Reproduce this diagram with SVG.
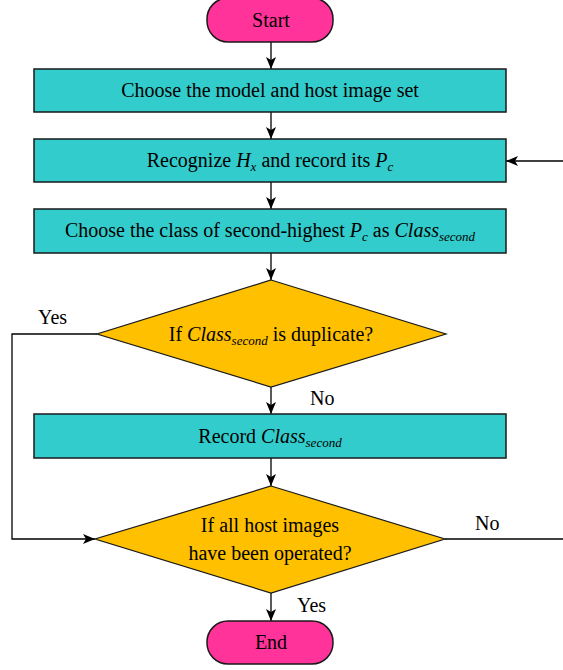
<svg xmlns="http://www.w3.org/2000/svg" width="563" height="670" viewBox="0 0 563 670">
<style>
.t{text-anchor:middle;}
.i{font-style:italic;}
.s{font-size:13px;font-style:italic;}
.box{fill:#33CCCC;stroke:#1a1a1a;stroke-width:1.5;}
.term{fill:#FF3399;stroke:#1a1a1a;stroke-width:1.5;}
.dec{fill:#FFC000;stroke:#1a1a1a;stroke-width:1.2;}
.c{fill:none;stroke:#000;stroke-width:1.3;}
</style>
<defs>
<marker id="ah" markerWidth="12" markerHeight="10" refX="12" refY="5" orient="auto" markerUnits="userSpaceOnUse">
<path d="M0,0 L12,5 L0,10 L3,5 Z" fill="#000"/>
</marker>
</defs>
<g id="connectors">
<line class="c" x1="271" y1="42" x2="271" y2="69" marker-end="url(#ah)"/>
<line class="c" x1="271" y1="112" x2="271" y2="139" marker-end="url(#ah)"/>
<line class="c" x1="271" y1="182" x2="271" y2="209" marker-end="url(#ah)"/>
<line class="c" x1="271" y1="253" x2="271" y2="280" marker-end="url(#ah)"/>
<line class="c" x1="271" y1="387" x2="271" y2="414" marker-end="url(#ah)"/>
<line class="c" x1="271" y1="458" x2="271" y2="486" marker-end="url(#ah)"/>
<line class="c" x1="271" y1="593" x2="271" y2="621" marker-end="url(#ah)"/>
<polyline class="c" points="97,334 12,334 12,539 95,539" marker-end="url(#ah)"/>
<line class="c" x1="445" y1="539" x2="563" y2="539"/>
<line class="c" x1="563" y1="161" x2="506" y2="161" marker-end="url(#ah)"/>
<text x="38" y="324" font-family="Liberation Serif" font-size="20">Yes</text>
<text x="310" y="405" font-family="Liberation Serif" font-size="20">No</text>
<text x="475" y="530" font-family="Liberation Serif" font-size="20">No</text>
<text x="297" y="612" font-family="Liberation Serif" font-size="20">Yes</text>
</g>
<g id="start">
<rect class="term" x="207" y="-2" width="126" height="44" rx="21" ry="21"/>
<text class="t" x="271" y="27" font-family="Liberation Serif" font-size="20">Start</text>
</g>
<g id="box1">
<rect class="box" x="34" y="69" width="472" height="43"/>
<text class="t" x="270" y="97" font-family="Liberation Serif" font-size="20">Choose the model and host image set</text>
</g>
<g id="box2">
<rect class="box" x="34" y="139" width="472" height="43"/>
<text class="t" x="270" y="167" font-family="Liberation Serif" font-size="20">Recognize <tspan class="i">H</tspan><tspan class="s" dy="4">x</tspan><tspan dy="-4"> and record its </tspan><tspan class="i">P</tspan><tspan class="s" dy="4">c</tspan></text>
</g>
<g id="box3">
<rect class="box" x="34" y="209" width="472" height="44"/>
<text class="t" x="270" y="237" font-family="Liberation Serif" font-size="20">Choose the class of second-highest <tspan class="i">P</tspan><tspan class="s" dy="4">c</tspan><tspan dy="-4"> as </tspan><tspan class="i">Class</tspan><tspan class="s" dy="4">second</tspan></text>
</g>
<g id="decision1">
<polygon class="dec" points="271,280 446,334 271,387 97,334"/>
<text class="t" x="271" y="341" font-family="Liberation Serif" font-size="20">If <tspan class="i">Class</tspan><tspan class="s" dy="4">second</tspan><tspan dy="-4">  is duplicate?</tspan></text>
</g>
<g id="box4">
<rect class="box" x="34" y="414" width="472" height="44"/>
<text class="t" x="270" y="443" font-family="Liberation Serif" font-size="20">Record <tspan class="i">Class</tspan><tspan class="s" dy="4">second</tspan></text>
</g>
<g id="decision2">
<polygon class="dec" points="271,486 445,539 271,593 95,539"/>
<text class="t" x="270" y="532" font-family="Liberation Serif" font-size="20">If all host images</text>
<text class="t" x="270" y="560" font-family="Liberation Serif" font-size="20">have been operated?</text>
</g>
<g id="end">
<rect class="term" x="207" y="621" width="126" height="43" rx="21" ry="21"/>
<text class="t" x="271" y="649" font-family="Liberation Serif" font-size="20">End</text>
</g>
</svg>
